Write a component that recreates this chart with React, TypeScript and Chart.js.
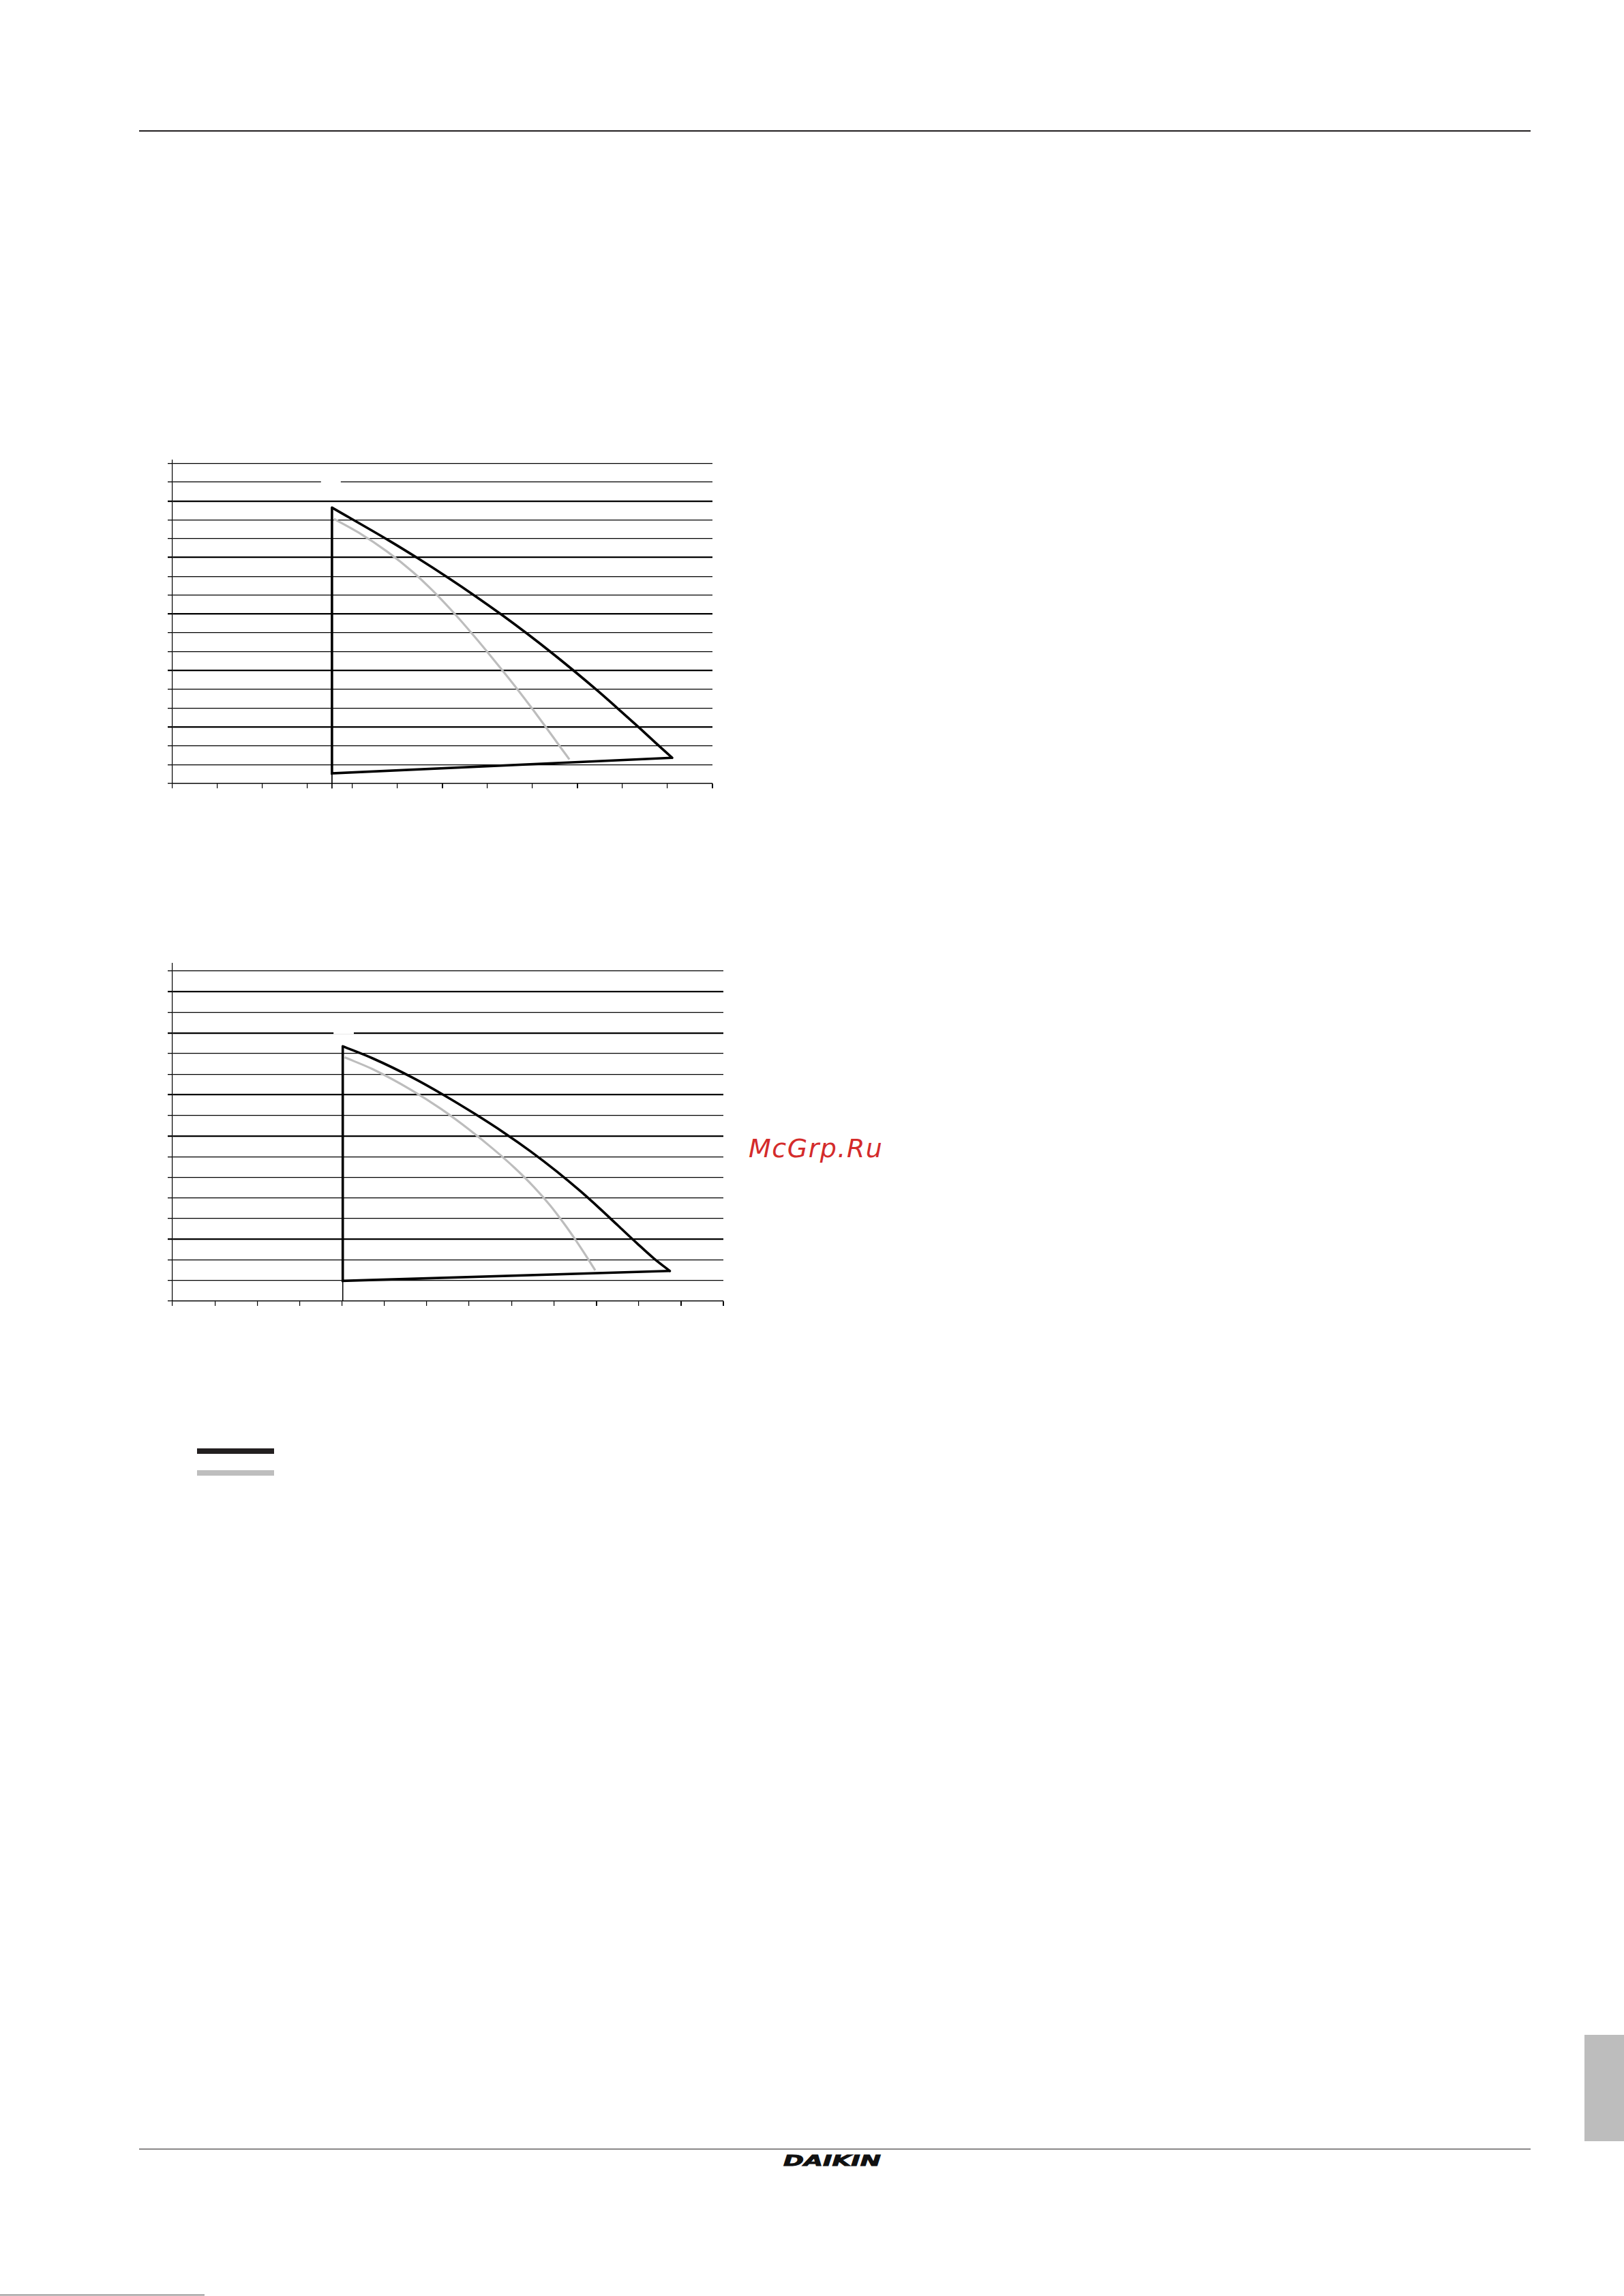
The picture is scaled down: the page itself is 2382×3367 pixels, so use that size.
import React, { useEffect, useRef } from "react";
import { Chart, registerables } from "chart.js";

Chart.register(...registerables);

type Pt = { x: number; y: number };

// ---------- Chart 1 (upper) : flow vs head ----------
const c1XMax = 60;
const c1YMax = 85.8;
const c1Step = 5;
const c1MaxCurve: Pt[] = [
  { x: 17.72, y: 73.25 },
  { x: 24.01, y: 64.56 },
  { x: 27.28, y: 59.77 },
  { x: 30.6, y: 54.67 },
  { x: 33.76, y: 49.57 },
  { x: 36.66, y: 44.66 },
  { x: 39.46, y: 39.68 },
  { x: 42.13, y: 34.71 },
  { x: 44.7, y: 29.73 },
  { x: 47.17, y: 24.76 },
  { x: 49.57, y: 19.72 },
  { x: 51.86, y: 14.81 },
  { x: 53.77, y: 10.61 },
  { x: 55.53, y: 6.83 },
];
const c1Edges: Pt[] = [
  { x: 55.53, y: 6.83 },
  { x: 17.72, y: 2.7 },
  { x: 17.72, y: 73.25 },
];
const c1GreyCurve: Pt[] = [
  { x: 17.94, y: 70.26 },
  { x: 20.64, y: 66.66 },
  { x: 23.85, y: 61.56 },
  { x: 26.7, y: 56.17 },
  { x: 28.84, y: 51.37 },
  { x: 31.5, y: 44.66 },
  { x: 33.32, y: 39.68 },
  { x: 35.06, y: 34.71 },
  { x: 36.76, y: 29.73 },
  { x: 38.41, y: 24.76 },
  { x: 40.02, y: 19.72 },
  { x: 41.54, y: 14.81 },
  { x: 43.05, y: 9.83 },
  { x: 44.1, y: 6.41 },
];
const c1Marker: Pt[] = [
  { x: 17.72, y: 2.7 },
  { x: 17.72, y: -1.3 },
];
const c1LabelGap: Pt[] = [
  { x: 16.5, y: 80 },
  { x: 18.7, y: 80 },
];
const c1ThickY = [15, 30, 45, 60, 75];
const c1ThickX = [30, 45, 60];

// ---------- Chart 2 (lower) ----------
const c2XMax = 65;
const c2YMax = 81.8;
const c2Step = 5;
const c2MaxCurve: Pt[] = [
  { x: 20.09, y: 61.75 },
  { x: 23.66, y: 58.79 },
  { x: 28.26, y: 54.22 },
  { x: 31.99, y: 49.95 },
  { x: 35.66, y: 45.39 },
  { x: 39.1, y: 40.83 },
  { x: 42.27, y: 36.26 },
  { x: 45.34, y: 31.42 },
  { x: 48.17, y: 26.57 },
  { x: 50.49, y: 22.29 },
  { x: 52.57, y: 18.3 },
  { x: 54.8, y: 14.03 },
  { x: 56.81, y: 10.32 },
  { x: 58.69, y: 7.3 },
];
const c2Edges: Pt[] = [
  { x: 58.69, y: 7.3 },
  { x: 20.09, y: 4.9 },
  { x: 20.09, y: 61.75 },
];
const c2GreyCurve: Pt[] = [
  { x: 20.31, y: 59.07 },
  { x: 23.6, y: 56.22 },
  { x: 28.23, y: 51.09 },
  { x: 31.71, y: 46.53 },
  { x: 35.11, y: 41.4 },
  { x: 37.86, y: 36.83 },
  { x: 40.38, y: 32.27 },
  { x: 42.62, y: 27.71 },
  { x: 44.58, y: 23.15 },
  { x: 46.27, y: 18.59 },
  { x: 47.63, y: 14.6 },
  { x: 49.0, y: 10.32 },
  { x: 49.88, y: 7.47 },
];
const c2Marker: Pt[] = [
  { x: 20.09, y: 4.9 },
  { x: 20.09, y: 0 },
];
const c2LabelGap: Pt[] = [
  { x: 19.0, y: 65 },
  { x: 21.4, y: 65 },
];
const c2ThickY = [15, 40, 50, 65, 75];
const c2ThickX = [50, 60, 65];

const BLACK = "#000000";
const GREY = "#bdbdbd";

type Spec = {
  xMax: number;
  yMax: number;
  step: number;
  maxCurve: Pt[];
  edges: Pt[];
  grey: Pt[];
  marker: Pt[];
  gap: Pt[];
  thickY: number[];
  thickX: number[];
};

function makeConfig(s: Spec): any {
  const line = (data: Pt[], color: string, width: number, extra: any = {}) => ({
    data,
    showLine: true,
    borderColor: color,
    backgroundColor: color,
    borderWidth: width,
    pointRadius: 0,
    pointHoverRadius: 0,
    fill: false,
    tension: 0,
    ...extra,
  });
  return {
    type: "scatter",
    data: {
      datasets: [
        line(s.maxCurve, BLACK, 3.6, { cubicInterpolationMode: "monotone", borderCapStyle: "round" }),
        line(s.edges, BLACK, 3.6, { borderJoinStyle: "miter" }),
        line(s.grey, GREY, 3.2, { cubicInterpolationMode: "monotone" }),
        line(s.marker, BLACK, 1, { clip: false }),
        line(s.gap, "#ffffff", 4),
      ],
    },
    options: {
      animation: false,
      responsive: false,
      devicePixelRatio: 1,
      events: [],
      layout: { padding: { left: 0, right: 3, top: 4, bottom: 0 } },
      plugins: { legend: { display: false }, tooltip: { enabled: false }, title: { display: false } },
      scales: {
        x: {
          type: "linear",
          position: "bottom",
          min: 0,
          max: s.xMax,
          ticks: { display: false, stepSize: s.step, includeBounds: false },
          grid: {
            drawOnChartArea: false,
            drawTicks: true,
            tickLength: 7,
            color: BLACK,
            lineWidth: (c: any) => (c.tick && s.thickX.includes(c.tick.value) ? 2 : 1.2),
          },
          border: { display: true, color: BLACK, width: 1.2 },
          afterFit: (sc: any) => {
            sc.height = 10;
          },
        },
        y: {
          type: "linear",
          position: "left",
          min: 0,
          max: s.yMax,
          ticks: { display: false, stepSize: s.step, includeBounds: false },
          grid: {
            drawOnChartArea: true,
            drawTicks: true,
            tickLength: 7,
            color: BLACK,
            lineWidth: (c: any) => (c.tick && s.thickY.includes(c.tick.value) ? 2.2 : 1.3),
          },
          border: { display: true, color: BLACK, width: 1.2 },
          afterFit: (sc: any) => {
            sc.width = 10;
          },
        },
      },
    },
  };
}

function ChartBox(props: { spec: Spec; left: number; top: number; width: number; height: number }) {
  const ref = useRef<HTMLCanvasElement | null>(null);
  useEffect(() => {
    if (!ref.current) return;
    const chart = new Chart(ref.current, makeConfig(props.spec));
    return () => chart.destroy();
  }, []);
  return (
    <canvas
      ref={ref}
      width={props.width}
      height={props.height}
      style={{
        position: "absolute",
        left: props.left,
        top: props.top,
        width: props.width,
        height: props.height,
        display: "block",
      }}
    />
  );
}

const abs = (l: number, t: number, w: number, h: number, bg: string): React.CSSProperties => ({
  position: "absolute",
  left: l,
  top: t,
  width: w,
  height: h,
  background: bg,
});

export default function App() {
  useEffect(() => {
    document.body.style.margin = "0";
    document.body.style.background = "#ffffff";
  }, []);
  const spec1: Spec = {
    xMax: c1XMax,
    yMax: c1YMax,
    step: c1Step,
    maxCurve: c1MaxCurve,
    edges: c1Edges,
    grey: c1GreyCurve,
    marker: c1Marker,
    gap: c1LabelGap,
    thickY: c1ThickY,
    thickX: c1ThickX,
  };
  const spec2: Spec = {
    xMax: c2XMax,
    yMax: c2YMax,
    step: c2Step,
    maxCurve: c2MaxCurve,
    edges: c2Edges,
    grey: c2GreyCurve,
    marker: c2Marker,
    gap: c2LabelGap,
    thickY: c2ThickY,
    thickX: c2ThickX,
  };
  return (
    <div style={{ position: "absolute", left: 0, top: 0, width: 2382, height: 3367, background: "#fff", overflow: "hidden" }}>
      {/* header rule */}
      <div style={abs(204, 191, 2041, 2, "#231f20")} />
      <ChartBox spec={spec1} left={243} top={671} width={805} height={488} />
      <ChartBox spec={spec2} left={243} top={1409} width={821} height={509} />
      {/* watermark */}
      <div
        style={{
          position: "absolute",
          left: 1098,
          top: 1665,
          fontFamily: "'DejaVu Sans', sans-serif",
          fontStyle: "italic",
          fontSize: 38,
          lineHeight: "38px",
          letterSpacing: 1.5,
          color: "#d42b2b",
          whiteSpace: "nowrap",
        }}
      >
        McGrp.Ru
      </div>
      {/* legend swatches */}
      <div style={abs(289, 2124, 113, 8, "#231f20")} />
      <div style={abs(289, 2156, 113, 8, "#bebebe")} />
      {/* side tab */}
      <div style={abs(2324, 2984, 58, 156, "#bdbdbd")} />
      {/* footer rule */}
      <div style={abs(204, 3151, 2041, 1, "#231f20")} />
      <div
        style={{
          position: "absolute",
          left: 1149,
          top: 3159,
          fontFamily: "'DejaVu Sans', sans-serif",
          fontStyle: "italic",
          fontWeight: 900,
          fontSize: 21,
          lineHeight: "21px",
          color: "#111",
          whiteSpace: "nowrap",
          WebkitTextStroke: "0.9px #111",
          transform: "scaleX(1.72)",
          transformOrigin: "left top",
        }}
      >
        DAIKIN
      </div>
      <div style={abs(0, 3365, 300, 1, "#444")} />
    </div>
  );
}
